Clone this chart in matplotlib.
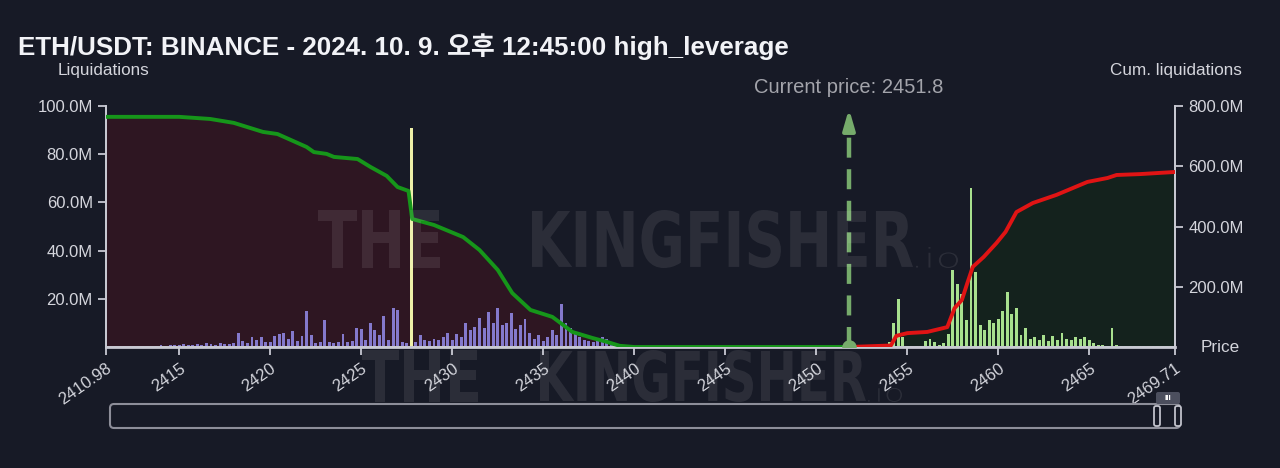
import numpy as np
import matplotlib
matplotlib.use("Agg")
import matplotlib.pyplot as plt
from matplotlib.patches import FancyBboxPatch, PathPatch
from matplotlib.ticker import FuncFormatter
from matplotlib.textpath import TextPath
from matplotlib.font_manager import FontProperties
from matplotlib.transforms import Affine2D

# price bins are 0.25 wide
left_start = 2411.0
left_liq = [0.2, 0.2, 0.3, 0.2, 0.3, 0.3, 0.4, 0.3, 0.4, 0.5, 0.4, 0.6,
            0.8, 0.6, 1.0, 0.7, 0.9, 1.2, 0.8, 1.0,
            1.3, 0.9, 1.5, 1.1, 1.0, 1.6, 1.2, 1.4,
            1.8, 6.0, 2.5, 1.8, 4.2, 3.0, 4.0, 2.2,
            2.0, 4.5, 5.2, 5.8, 3.5, 6.6, 2.5, 4.5,
            15.0, 5.0, 1.5, 2.0, 11.0, 2.2, 1.8, 2.0,
            5.4, 2.0, 2.5, 8.0, 7.5, 3.0, 10.0, 7.0,
            5.0, 13.0, 3.0, 16.0, 15.5, 2.0, 1.5, 91.0,
            2.0, 5.0, 3.0, 2.5, 3.5, 2.8, 4.0, 5.8,
            3.0, 5.5, 4.0, 10.0, 7.0, 8.5, 12.0, 8.0,
            14.5, 10.0, 16.0, 9.0, 10.0, 14.0, 7.5, 9.0,
            11.6, 6.0, 3.5, 5.0, 2.5, 4.0, 7.0, 5.0,
            18.0, 10.0, 8.0, 5.5, 4.0, 3.0, 2.5, 2.0,
            2.5, 4.0, 3.5, 1.5, 1.0, 0.8, 0.5, 0.4,
            0.3, 0.3, 0.2, 0.2]

right_start = 2452.0
right_liq = [0.2, 0.3, 0.2, 0.3, 0.3, 0.4, 0.3, 0.5,
             2.0, 10.0, 20.0, 4.0, 0.6, 0.5, 0.4, 0.6,
             2.5, 3.5, 2.0, 0.8, 1.5, 5.5, 32.0, 26.0,
             22.0, 11.0, 66.0, 31.0, 9.0, 7.0, 11.0, 10.0,
             11.5, 15.0, 23.0, 13.5, 16.0, 5.0, 8.0, 3.5,
             4.0, 3.0, 5.0, 2.5, 4.5, 3.0, 6.0, 3.5,
             3.0, 4.0, 3.5, 4.0, 3.0, 1.5, 1.0, 0.8,
             0.6, 8.0, 0.8, 0.5, 0.4, 0.5, 0.4, 0.5,
             0.4, 0.4, 0.5, 0.4, 0.5, 0.4, 0.5]

# cumulative liquidations (right axis, M)
short_px = [2410.98, 2415.0, 2416.7, 2418.0, 2419.6, 2420.4, 2422.0, 2422.4, 2423.1,
            2423.5, 2424.8, 2425.5, 2426.4, 2427.0, 2427.6, 2427.8, 2429.0, 2430.6,
            2431.5, 2432.5, 2433.3, 2434.3, 2435.5, 2436.1, 2436.6, 2437.7, 2438.5,
            2439.2, 2440.0, 2451.8]
short_cum = [764, 764, 757, 744, 714, 707, 664, 647, 641,
             631, 624, 598, 568, 531, 518, 425, 405, 365,
             322, 256, 179, 123, 100, 73, 50, 30, 17,
             4, 0, 0]

long_px = [2451.8, 2454.1, 2454.4, 2455.0, 2456.1, 2457.2, 2457.6, 2458.0, 2458.3,
           2458.6, 2459.2, 2459.9, 2460.4, 2461.0, 2461.9, 2463.2, 2464.9, 2466.0,
           2466.5, 2467.8, 2469.71]
long_cum = [0, 5, 37, 46, 50, 66, 129, 156, 212,
            266, 299, 345, 382, 448, 478, 505, 548, 561,
            571, 574, 581]

current_price = 2451.8
x_min, x_max = 2410.98, 2469.71
x_ticks = [2410.98, 2415, 2420, 2425, 2430, 2435, 2440, 2445, 2450, 2455, 2460, 2465, 2469.71]
x_labels = ["2410.98", "2415", "2420", "2425", "2430", "2435", "2440", "2445", "2450",
            "2455", "2460", "2465", "2469.71"]

bg = "#171a26"
txt = "#d4d5dc"
lat = ["Liberation Sans", "DejaVu Sans"]

plt.rcParams["font.family"] = lat

fig = plt.figure(figsize=(12.8, 4.68), dpi=100, facecolor=bg)
ax = fig.add_axes([106 / 1280, 1 - 347 / 468, 1069 / 1280, 241 / 468])
ax.set_facecolor(bg)
ax2 = ax.twinx()
ax2.patch.set_visible(False)

# fills under the cumulative lines, drawn on the left axis (scale 800 -> 100)
ax.fill_between(short_px, np.array(short_cum) / 8, 0, color="#2e1622", lw=0, zorder=1)
ax.fill_between(long_px, np.array(long_cum) / 8, 0, color="#14221d", lw=0, zorder=1)

lp = left_start + 0.25 * np.arange(len(left_liq))
lcol = ["#eef0a8" if v > 50 else "#8479cc" for v in left_liq]
ax.bar(lp, left_liq, width=0.16, color=lcol, lw=0, zorder=2)
rp = right_start + 0.25 * np.arange(len(right_liq))
ax.bar(rp, right_liq, width=0.16, color="#a8e08e", lw=0, zorder=2)

ax2.plot(short_px, short_cum, color="#16961a", lw=2.8, zorder=3, solid_capstyle="round")
ax2.plot(long_px, long_cum, color="#e01414", lw=2.8, zorder=3, solid_capstyle="round")

# current price marker
cp_col = "#76ab6b"
ax2.plot([current_price, current_price], [0, 730], color=cp_col, lw=3.2,
         dashes=(4.5, 2.6), zorder=4)
ax2.annotate("", xy=(current_price, 800), xytext=(current_price, 730),
             arrowprops=dict(arrowstyle="-|>,head_length=1.2,head_width=0.35",
                             color=cp_col, lw=3), zorder=4)
ax2.scatter([current_price], [0], s=110, color=cp_col, zorder=5, lw=0)
ax2.text(current_price, 862, f"Current price: {current_price}", ha="center", va="center",
         color="#a3a4ab", fontsize=14.5)

ax.set_xlim(x_min, x_max)
ax.set_ylim(0, 100)
ax2.set_ylim(0, 800)
ax.set_xticks(x_ticks)
ax.set_xticklabels(x_labels, rotation=35, ha="right", rotation_mode="anchor")
ax.set_yticks([20, 40, 60, 80, 100])
ax.yaxis.set_major_formatter(FuncFormatter(lambda v, p: f"{v:.1f}M"))
ax2.set_yticks([200, 400, 600, 800])
ax2.yaxis.set_major_formatter(FuncFormatter(lambda v, p: f"{v:.1f}M"))

for a in (ax, ax2):
    a.tick_params(colors="#c8c9d2", labelcolor=txt, labelsize=12, length=6, width=1.3)
    for s in a.spines.values():
        s.set_color("#c8c9d2")
        s.set_linewidth(1.3)
    a.spines["top"].set_visible(False)
ax.spines["bottom"].set_linewidth(2)
ax.tick_params(axis="x", pad=4)

# titles and axis names
fig.text(18 / 1280, 1 - 47 / 468, "ETH/USDT: BINANCE - 2024. 10. 9. 오후 12:45:00 high_leverage",
         fontsize=18.7, fontweight="bold", color="#f2f3f7", va="center",
         family=["Liberation Sans", "Noto Sans CJK KR"])
fig.text(58 / 1280, 1 - 71 / 468, "Liquidations", fontsize=12.3, color=txt, va="center")
fig.text(1242 / 1280, 1 - 71 / 468, "Cum. liquidations", fontsize=12.3, color=txt,
         va="center", ha="right")
fig.text(1220 / 1280, 1 - 347 / 468, "Price", fontsize=12.3, color=txt, va="center", ha="center")

# overlay for watermark and range slider (pixel units)
ov = fig.add_axes([0, 0, 1, 1], zorder=10)
ov.set_xlim(0, 1280)
ov.set_ylim(468, 0)
ov.axis("off")
ov.patch.set_visible(False)

bold_fp = FontProperties(family="DejaVu Sans", weight="bold")
thin_fp = FontProperties(family="DejaVu Sans", weight="light")


def stamp(s, x0, x1, ytop, ybot, fp):
    # squeeze a word into a box, like the condensed logo type
    tp = TextPath((0, 0), s, size=100, prop=fp)
    ext = tp.get_extents()
    tr = (Affine2D().translate(-ext.x0, -ext.y0)
          .scale((x1 - x0) / ext.width, -(ybot - ytop) / ext.height)
          .translate(x0, ybot))
    ov.add_patch(PathPatch(tr.transform_path(tp), fc="white", lw=0, alpha=0.085))


stamp("THE", 318, 440, 210, 268, bold_fp)
stamp("KINGFISHER", 532, 913, 210, 268, bold_fp)
stamp(".io", 916, 958, 247, 268, thin_fp)
stamp("THE", 362, 478, 350, 402, bold_fp)
stamp("KINGFISHER", 540, 866, 350, 402, bold_fp)
stamp(".io", 868, 902, 383, 402, thin_fp)

ov.add_patch(FancyBboxPatch((110, 404), 1070, 24, boxstyle="round,pad=0,rounding_size=4",
                            fc="none", ec="#8d8e99", lw=1.5))
ov.add_patch(FancyBboxPatch((1156, 392), 24, 12, boxstyle="round,pad=0,rounding_size=2",
                            fc="#4c4f5e", ec="none"))
ov.text(1168, 398, "III", fontsize=6, color="white", ha="center", va="center", fontweight="bold")
for hx in (1154, 1175):
    ov.add_patch(FancyBboxPatch((hx, 406), 6, 20, boxstyle="round,pad=0,rounding_size=2",
                                fc=bg, ec="#c0c1ca", lw=1.3))

fig.savefig("out.png", dpi=100, facecolor=bg)
